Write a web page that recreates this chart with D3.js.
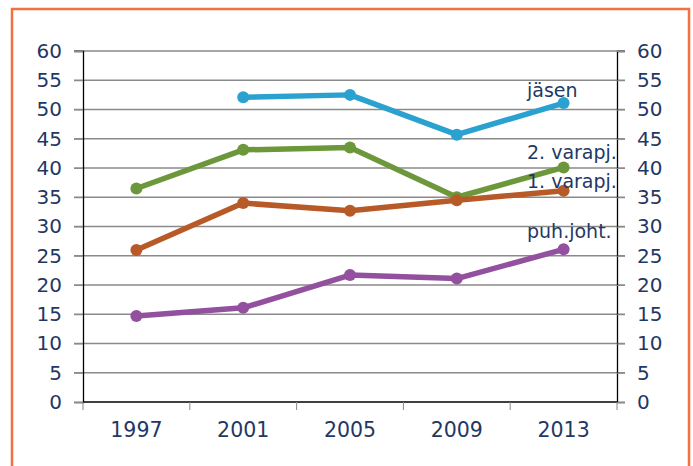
<!DOCTYPE html>
<html><head><meta charset="utf-8">
<script src="https://cdn.jsdelivr.net/npm/d3@7"></script>
<style>body{margin:0;background:#fff}svg{display:block}</style>
</head><body>
<script>
const years = ["1997","2001","2005","2009","2013"];
const jasen = [null, 52.1, 52.5, 45.7, 51.1];
const varapj2 = [36.5, 43.1, 43.5, 35.0, 40.1];
const varapj1 = [26.0, 34.0, 32.7, 34.5, 36.1];
const puhjoht = [14.7, 16.1, 21.7, 21.1, 26.1];
const seriesNames = ["jäsen", "2. varapj.", "1. varapj.", "puh.joht."];
const yTicks = [0,5,10,15,20,25,30,35,40,45,50,55,60];

const series = [
  {name: seriesNames[0], values: jasen, color: "#2ba1cf", label: [527, 97]},
  {name: seriesNames[1], values: varapj2, color: "#6c973a", label: [527, 159]},
  {name: seriesNames[2], values: varapj1, color: "#b85a27", label: [527, 188]},
  {name: seriesNames[3], values: puhjoht, color: "#92509e", label: [527, 238]}
];

const W = 693, H = 466;
const L = 83, R = 617, T = 51, B = 402;
const svg = d3.select("body").append("svg").attr("width", W).attr("height", H);
const font = "DejaVu Sans, Verdana, sans-serif";
const txt = "#1f3864";

svg.append("rect").attr("x", 12).attr("y", 9).attr("width", 677).attr("height", 480)
  .attr("fill", "none").attr("stroke", "#f47040").attr("stroke-width", 2.5);

const x = d3.scaleBand().domain(years).range([L, R]);
const y = d3.scaleLinear().domain([0, 60]).range([B, T]);

// gridlines
svg.append("g").selectAll("line").data(yTicks.filter(d => d > 0)).join("line")
  .attr("x1", L - 9).attr("x2", R + 8).attr("y1", d => y(d)).attr("y2", d => y(d))
  .attr("stroke", "#8a8a8a").attr("stroke-width", 1.3);

// left axis
const la = svg.append("g").attr("transform", `translate(${L},0)`)
  .call(d3.axisLeft(y).tickValues(yTicks).tickSize(9).tickPadding(12));
la.select(".domain").attr("stroke", "#000").attr("stroke-width", 1.3);
la.selectAll(".tick line").attr("stroke", "#8a8a8a");
la.selectAll("text").attr("font-family", font).attr("font-size", 20).attr("fill", txt);

const ra = svg.append("g").attr("transform", `translate(${R},0)`)
  .call(d3.axisRight(y).tickValues(yTicks).tickSize(8).tickPadding(12));
ra.select(".domain").attr("stroke", "#000").attr("stroke-width", 1.3);
ra.selectAll(".tick line").attr("stroke", "#8a8a8a");
ra.selectAll("text").attr("font-family", font).attr("font-size", 20).attr("fill", txt);

// bottom axis
svg.append("line").attr("x1", L).attr("x2", R).attr("y1", B).attr("y2", B)
  .attr("stroke", "#000").attr("stroke-width", 1.5);
const edges = years.map(d => x(d)).concat([x(years[years.length-1]) + x.bandwidth()]);
svg.append("g").selectAll("line").data(edges).join("line")
  .attr("x1", d => d).attr("x2", d => d).attr("y1", B).attr("y2", B + 8)
  .attr("stroke", "#8a8a8a");
svg.append("g").selectAll("text").data(years).join("text")
  .attr("x", d => x(d) + x.bandwidth() / 2).attr("y", 437)
  .attr("text-anchor", "middle").attr("font-family", font).attr("font-size", 20.5)
  .attr("fill", txt).text(d => d);

const line = d3.line().defined(d => d[1] != null)
  .x(d => x(d[0]) + x.bandwidth() / 2).y(d => y(d[1]));

series.forEach(s => {
  const pts = years.map((yr, i) => [yr, s.values[i]]);
  svg.append("path").datum(pts).attr("d", line).attr("fill", "none")
    .attr("stroke", s.color).attr("stroke-width", 5.5).attr("stroke-linejoin", "round");
  svg.append("g").selectAll("circle").data(pts.filter(d => d[1] != null)).join("circle")
    .attr("cx", d => x(d[0]) + x.bandwidth() / 2).attr("cy", d => y(d[1]))
    .attr("r", 6).attr("fill", s.color);
});

series.forEach(s => {
  svg.append("text").attr("x", s.label[0]).attr("y", s.label[1])
    .attr("font-family", font).attr("font-size", 19).attr("fill", txt).text(s.name);
});
</script>
</body></html>
